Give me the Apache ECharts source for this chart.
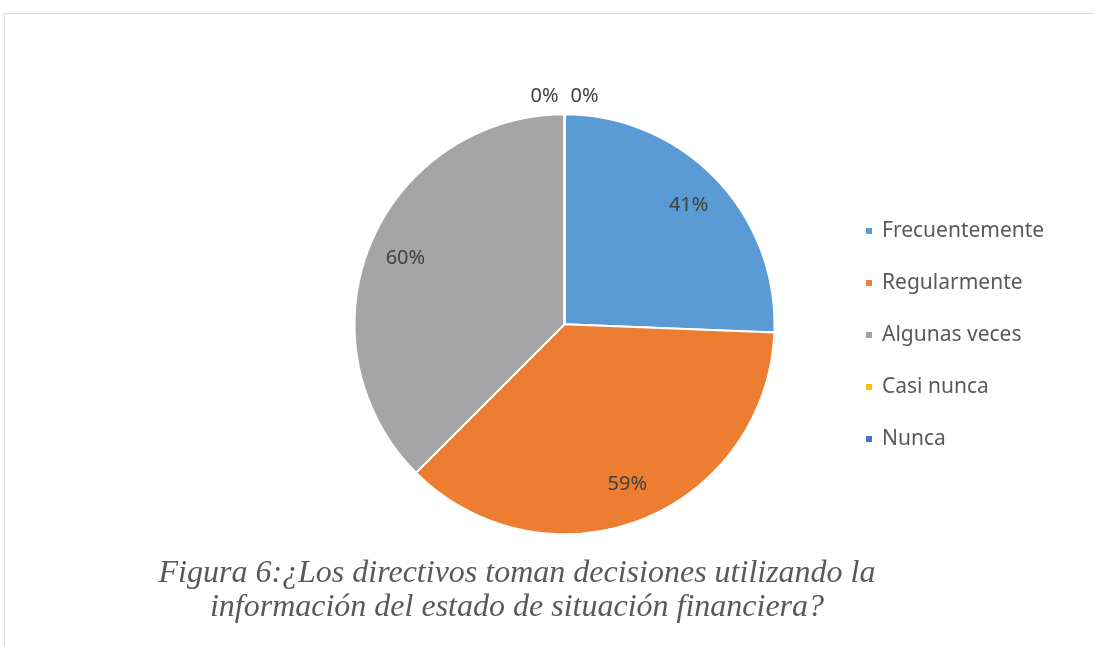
<!DOCTYPE html>
<html>
<head>
<meta charset="utf-8">
<script src="https://cdn.jsdelivr.net/npm/echarts@6/dist/echarts.min.js"></script>
<style>
  html, body { margin: 0; padding: 0; background: #fff; overflow: hidden; }
  #frame { position: absolute; left: 4px; top: 13px; width: 1200px; height: 700px;
           border-left: 1px solid #d9d9d9; border-top: 1px solid #d9d9d9; }
  #chart { position: absolute; left: 0; top: 0; width: 1094px; height: 646px; }
</style>
</head>
<body>
<div id="frame"></div>
<div id="chart"></div>
<script>
const categories = ["Frecuentemente", "Regularmente", "Algunas veces", "Casi nunca", "Nunca"];
const values = [41, 59, 60, 0, 0];
const colors = ["#5B9BD5", "#ED7D31", "#A5A5A5", "#FFC000", "#4472C4"];
const caption = "Figura 6:¿Los directivos toman decisiones utilizando la\ninformación del estado de situación financiera?";

const chart = echarts.init(document.getElementById("chart"));
const radiusPx = 210;
const total = values.reduce((a, b) => a + b, 0);

// push labels outwards from the library's inside spot (r/2) to about 0.82r
let acc = 0;
let zeroIdx = 0;
const data = categories.map((name, i) => {
  const mid = ((acc + values[i] / 2) / total) * Math.PI * 2;
  acc += values[i];
  let shift = radiusPx * 0.82 - (radiusPx / 2 + 3);
  let side = 0;
  if (values[i] === 0) {
    shift = radiusPx + 18 - (radiusPx / 2 + 3);
    side = zeroIdx++ === 0 ? -20 : 20;
  }
  return {
    name,
    value: values[i],
    itemStyle: { color: colors[i] },
    label: { offset: [Math.sin(mid) * shift + side, -Math.cos(mid) * shift] },
  };
});

chart.setOption({
  animation: false,
  title: {
    text: caption,
    left: 512,
    top: 552,
    textAlign: "center",
    textStyle: {
      fontFamily: "Liberation Serif",
      fontStyle: "italic",
      fontWeight: "normal",
      fontSize: 32,
      lineHeight: 34,
      color: "#595959",
    },
  },
  legend: {
    orient: "vertical",
    left: 859,
    top: 215,
    itemWidth: 8,
    itemHeight: 8,
    itemGap: 30,
    icon: "rect",
    textStyle: { fontFamily: "Noto Sans", fontSize: 21, color: "#595959", lineHeight: 22, padding: [0, 0, 0, 4] },
    data: categories,
  },
  series: [
    {
      type: "pie",
      center: ["51.6%", "50.2%"],
      radius: [0, radiusPx],
      startAngle: 90,
      clockwise: true,
      avoidLabelOverlap: false,
      itemStyle: { borderColor: "#fff", borderWidth: 2 },
      label: {
        show: true,
        position: "inside",
        formatter: "{c}%",
        fontFamily: "Noto Sans",
        fontSize: 20,
        color: "#404040",
      },
      labelLine: { show: false },
      emphasis: { disabled: true },
      data,
    },
  ],
});
</script>
</body>
</html>
